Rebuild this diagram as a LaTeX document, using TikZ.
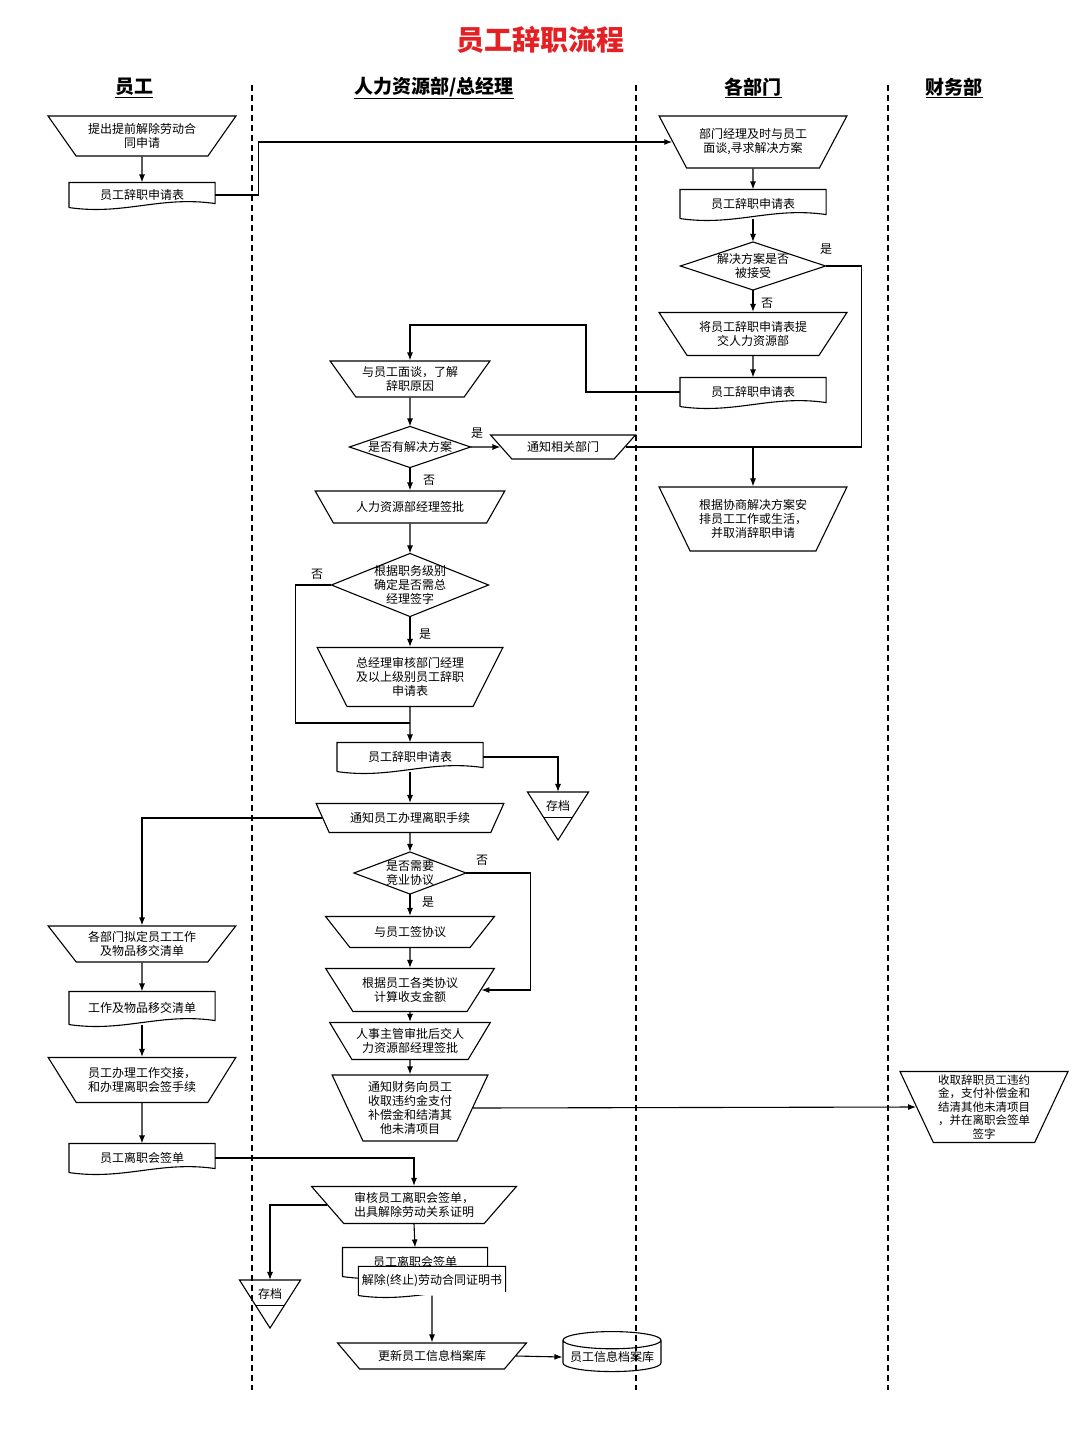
\documentclass[tikz,border=0pt]{standalone}
\usepackage{fontspec}
\setmainfont{Noto Sans CJK SC}
\usetikzlibrary{shapes.geometric,positioning,calc,arrows.meta}
\definecolor{titlered}{RGB}{228,32,36}

\begin{document}
\begin{tikzpicture}[x=1pt, y=-1pt, line width=1.1pt, font=\fontsize{12}{14}\selectfont,
    arr/.style={-{Latex[length=8pt,width=6pt]}},
    manual/.style={trapezium, trapezium angle=#1, shape border rotate=180, trapezium stretches=true, draw, align=center, inner sep=1.5pt},
    manual/.default=50,
    doc/.style={minimum width=145, minimum height=26, inner sep=1.5pt, align=center,
        append after command={\pgfextra{\draw (\tikzlastnode.south west) -- (\tikzlastnode.north west) -- (\tikzlastnode.north east) -- ([yshift=4pt]\tikzlastnode.south east) .. controls +(-55,-8) and +(55,8) .. (\tikzlastnode.south west);}}},
    decision/.style={minimum width=#1, inner sep=0pt, align=center,
        append after command={\pgfextra{\draw (\tikzlastnode.west) -- (\tikzlastnode.north) -- (\tikzlastnode.east) -- (\tikzlastnode.south) -- cycle;}}},
    archive/.style={minimum width=60, minimum height=47, inner sep=0pt, text height=10pt, text depth=22pt,
        append after command={\pgfextra{\draw (\tikzlastnode.north west) -- (\tikzlastnode.north east) -- (\tikzlastnode.south) -- cycle;
        \draw ($(\tikzlastnode.north west)!0.53!(\tikzlastnode.south)$) -- ($(\tikzlastnode.north east)!0.53!(\tikzlastnode.south)$);}}},
    db/.style={cylinder, shape border rotate=90, shape aspect=0.2, draw, minimum width=98, minimum height=40, inner sep=1pt},
    lanehead/.style={font=\fontsize{19}{22}\selectfont\bfseries},
    lane/.style={dash pattern=on 6pt off 4pt, line width=1.5pt}]
    \useasboundingbox (0,0) rectangle (1080,1440);
    \node[font=\fontsize{28}{32}\selectfont\bfseries, text=titlered] (title) at (540,40) {员工辞职流程};
    \node[lanehead] (hdE) at (134,88) {\underline{员工}};
    \node[lanehead] (hdH) at (434,88) {\underline{人力资源部/总经理}};
    \node[lanehead] (hdD) at (753,88) {\underline{各部门}};
    \node[lanehead] (hdF) at (954,88) {\underline{财务部}};
    \draw[lane] (252,85) -- (252,1390);
    \draw[lane] (636,85) -- (636,1390);
    \draw[lane] (888,85) -- (888,1390);

    \node[manual, minimum width=188, minimum height=40] (E1) at (142,136) {提出提前解除劳动合\\同申请};
    \node[doc, minimum height=24] (E2) at (142,195) {员工辞职申请表};
    \node[manual=52, minimum width=188, minimum height=52] (D1) at (753,142) {部门经理及时与员工\\面谈,寻求解决方案};
    \node[doc, minimum height=28] (D2) at (753,204) {员工辞职申请表};
    \node[decision=144, minimum height=47] (D3) at (753,266) {解决方案是否\\被接受};
    \node[manual, minimum width=188, minimum height=43] (D4) at (753,334) {将员工辞职申请表提\\交人力资源部};
    \node[doc, minimum height=28] (D5) at (753,392) {员工辞职申请表};
    \node[manual=57, minimum width=188, minimum height=64] (D6) at (753,519) {根据协商解决方案安\\排员工工作或生活，\\并取消辞职申请};

    \node[manual, minimum width=160, minimum height=36] (H1) at (410,379) {与员工面谈，了解\\辞职原因};
    \node[decision=120, minimum height=40] (H2) at (410,447) {是否有解决方案};
    \node[manual=42, minimum width=145, minimum height=24] (H3) at (563,447) {通知相关部门};
    \node[manual=47, minimum width=190, minimum height=32] (H4) at (410,507) {人力资源部经理签批};
    \node[decision=156, minimum height=62] (H5) at (410,585) {根据职务级别\\确定是否需总\\经理签字};
    \node[manual=58, minimum width=186, minimum height=59] (H6) at (410,677) {总经理审核部门经理\\及以上级别员工辞职\\申请表};
    \coordinate (m1) at (410,723);
    \node[doc, minimum height=28] (H7) at (410,757) {员工辞职申请表};
    \node[archive] (A1) at (558,816) {存档};
    \node[manual=55, minimum width=188, minimum height=29] (H8) at (410,818) {通知员工办理离职手续};
    \node[decision=111, minimum height=41] (H9) at (410,873) {是否需要\\竞业协议};
    \node[manual=43, minimum width=169, minimum height=31] (H10) at (410,932) {与员工签协议};
    \node[manual, minimum width=169, minimum height=43] (H11) at (410,990) {根据员工各类协议\\计算收支金额};
    \node[manual=53, minimum width=161, minimum height=37] (H12) at (410,1041) {人事主管审批后交人\\力资源部经理签批};
    \node[manual=63, minimum width=156, minimum height=66] (H13) at (410,1108) {通知财务向员工\\收取违约金支付\\补偿金和结清其\\他未清项目};
    \node[manual=65, minimum width=168, minimum height=71, font=\fontsize{11.5}{13.5}\selectfont, inner sep=0.5pt] (F1) at (984,1107) {收取辞职员工违约\\金，支付补偿金和\\结清其他未清项目\\，并在离职会签单\\签字};

    \node[manual, minimum width=188, minimum height=36] (E3) at (142,944) {各部门拟定员工工作\\及物品移交清单};
    \node[doc, minimum height=32] (E4) at (142,1008) {工作及物品移交清单};
    \node[manual, minimum width=188, minimum height=45] (E5) at (142,1080) {员工办理工作交接，\\和办理离职会签手续};
    \node[doc, minimum height=28] (E6) at (142,1158) {员工离职会签单};
    \node[manual=45, minimum width=205, minimum height=37] (H14) at (414,1205) {审核员工离职会签单，\\出具解除劳动关系证明};
    \node[archive] (A2) at (270,1304) {存档};
    \node[doc, minimum width=144, minimum height=28] (H15b) at (415,1262) {员工离职会签单};
    \node[doc, minimum width=146, minimum height=28, fill=white, inner sep=0.5pt] (H15) at (432,1281) {解除(终止)劳动合同证明书};
    \node[manual=40, minimum width=189, minimum height=26] (H16) at (432,1356) {更新员工信息档案库};
    \node[db] (DB) at (612,1357) {员工信息档案库};

    \node (y1) at (826,249) {是};
    \node (n1) at (767,303) {否};
    \node (y2) at (477,433) {是};
    \node (n2) at (429,480) {否};
    \node (n3) at (317,574) {否};
    \node (y3) at (425,634) {是};
    \node (n4) at (482,860) {否};
    \node (y4) at (428,902) {是};

    \coordinate (jn) at (D6.north |- H3.east);
    \coordinate (r1) at (586,325);
    \draw[arr] (E1) -- (E2);
    \draw[arr] (E2.east) -- ++(43,0) |- (D1.west);
    \draw[arr] (D1) -- (D2);
    \draw[arr] (D2) -- (D3);
    \draw[arr] (D3) -- (D4);
    \draw[arr] (D4) -- (D5);
    \draw (D3.east) -- ++(36,0) |- (jn);
    \draw[arr] (D5.west) -| (r1) -| (H1.north);
    \draw[arr] (H1) -- (H2);
    \draw[arr] (H2) -- (H3);
    \draw[arr] (H3.east) -- (jn) -- (D6.north);
    \draw[arr] (H2) -- (H4);
    \draw[arr] (H4) -- (H5);
    \draw[arr] (H5) -- (H6);
    \draw (H5.west) -- ++(-36,0) |- (m1);
    \draw[arr] (H6.south) -- (m1) -- (H7.north);
    \draw[arr] (H7.east) -| (A1.north);
    \draw[arr] (H7) -- (H8);
    \draw[arr] (H8.west) -| (E3.north);
    \draw[arr] (H8) -- (H9);
    \draw[arr] (H9) -- (H10);
    \draw[arr] (H9.east) -- ++(64,0) |- (H11.east);
    \draw[arr] (H10) -- (H11);
    \draw[arr] (H11) -- (H12);
    \draw[arr] (H12) -- (H13);
    \draw[arr] (H13.east) -- (F1.west);
    \draw[arr] (E3) -- (E4);
    \draw[arr] (E4) -- (E5);
    \draw[arr] (E5) -- (E6);
    \draw[arr] (E6.east) -| (H14.north);
    \draw[arr] (H14.west) -| (A2.north);
    \draw[arr] (H14.south) -- (H15b.north);
    \draw[arr] (H15.south) -- (H16.north);
    \draw[arr] (H16.east) -- (DB.west);
\end{tikzpicture}
\end{document}
